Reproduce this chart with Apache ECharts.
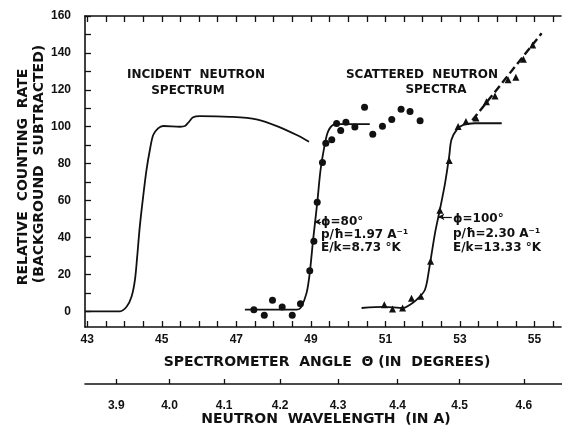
<!DOCTYPE html>
<html><head><meta charset="utf-8">
<script src="https://cdn.jsdelivr.net/npm/echarts@6/dist/echarts.min.js"></script>
<style>html,body{margin:0;padding:0;background:#fff}#c{width:562px;height:425px}</style>
</head><body><div id="c"></div>
<script>
// ---- data (spectrometer angle in degrees, relative counting rate) ----
const incidentTheta = [42.94, 43.5, 43.88, 44.06, 44.19, 44.28, 44.34, 44.41, 44.50, 44.59, 44.68, 44.77, 44.90, 45.04, 45.49, 45.62, 45.71, 45.84, 46.02, 46.83, 47.54, 48.17, 48.62, 48.95];
const incidentRate  = [0, 0, 0, 2.6, 8.0, 17.0, 29.6, 45.9, 62.1, 76.6, 87.4, 95.5, 99.1, 100.4, 100.0, 100.4, 102.2, 105.1, 105.8, 105.4, 104.0, 99.7, 95.5, 91.9];

const dots80Theta = [47.47, 47.75, 47.97, 48.23, 48.50, 48.72, 48.97, 49.08, 49.17, 49.31, 49.40, 49.56, 49.69, 49.80, 49.94, 50.18, 50.44, 50.66, 50.92, 51.17, 51.42, 51.66, 51.93];
const dots80Rate  = [0.9, -2.2, 6.0, 2.3, -2.1, 4.1, 22.0, 38.0, 59.1, 80.6, 91.1, 92.9, 101.7, 97.9, 102.5, 99.9, 110.5, 95.9, 100.2, 103.9, 109.5, 108.2, 103.2];

const fit80Theta = [47.23, 48.62, 48.73, 48.885, 48.97, 49.06, 49.17, 49.26, 49.38, 49.46, 49.60, 49.78, 50.58];
const fit80Rate  = [0.9, 0.9, 2.0, 10.0, 20.8, 38.8, 58.7, 76.7, 91.1, 97.4, 101.0, 101.4, 101.4];

const tri100Theta = [50.97, 51.19, 51.46, 51.70, 51.95, 52.21, 52.46, 52.71, 52.95, 53.16, 53.43, 53.71, 53.94, 54.29, 54.50, 54.70, 54.95];
const tri100Rate  = [3.6, 1.3, 1.8, 7.1, 8.1, 27.1, 54.7, 81.7, 100.1, 102.8, 104.7, 113.6, 116.7, 125.4, 126.8, 136.6, 144.3];

const fit100Theta = [50.36, 50.96, 51.48, 51.66, 51.84, 52.06, 52.17, 52.33, 52.46, 52.60, 52.71, 52.77, 52.91, 53.09, 53.40, 54.12];
const fit100Rate  = [1.8, 2.4, 1.8, 3.6, 6.3, 11.7, 22.6, 42.4, 55.0, 69.5, 83.9, 92.9, 98.3, 101.0, 101.9, 101.9];

const dash100Theta = [53.33, 55.19];
const dash100Rate  = [103.5, 150.6];

// ---- axes ----
const angleTicks  = [43, 43.5, 44, 44.5, 45, 45.5, 46, 46.5, 47, 47.5, 48, 48.5, 49, 49.5, 50, 50.5, 51, 51.5, 52, 52.5, 53, 53.5, 54, 54.5, 55, 55.5];
const angleLabels = [43, 45, 47, 49, 51, 53, 55];
const rateTicks   = [0, 10, 20, 30, 40, 50, 60, 70, 80, 90, 100, 110, 120, 130, 140, 150, 160];
const rateLabels  = [0, 20, 40, 60, 80, 100, 120, 140, 160];
const wavelengthLabels = [3.9, 4.0, 4.1, 4.2, 4.3, 4.4, 4.5, 4.6];
const TWO_D = 5.637; // Bragg: lambda = 2d sin(theta)

const ANGLE_MIN = 42.94, ANGLE_MAX = 55.71;
const RATE_MIN = -8.5, RATE_MAX = 160;

const toPairs = (xs, ys) => xs.map((x, i) => [x, ys[i]]);
const lambdaToTheta = l => Math.asin(l / TWO_D) * 180 / Math.PI;
const wlPositions = wavelengthLabels.map(lambdaToTheta);

const FONT = 'Liberation Sans';
const TFONT = 'DejaVu Sans';
const INK = '#111';
const lbl = {fontFamily: FONT, fontWeight: 'bold', fontSize: 12, color: INK};

const chart = echarts.init(document.getElementById('c'), null, {renderer: 'canvas'});

const t = (text, x, y, size, align) => ({
  type: 'text', x: x, y: y,
  style: {text: text, font: 'bold ' + size + 'px "' + TFONT + '"', fill: INK,
          textAlign: align || 'left', textVerticalAlign: 'middle'}
});

chart.setOption({
  animation: false,
  backgroundColor: '#fff',
  grid: [
    {left: 85, right: 1, top: 16, bottom: 98},
    {left: 85, right: 0, top: 383, height: 1}
  ],
  xAxis: [
    {type: 'value', gridIndex: 0, position: 'bottom', min: ANGLE_MIN, max: ANGLE_MAX,
     axisLine: {show: true, onZero: false, lineStyle: {color: INK, width: 1.6}},
     axisTick: {show: true, inside: true, length: 6, customValues: angleTicks, lineStyle: {color: INK, width: 1.3}},
     axisLabel: Object.assign({customValues: angleLabels, margin: 7}, lbl),
     splitLine: {show: false}},
    {type: 'value', gridIndex: 0, position: 'top', min: ANGLE_MIN, max: ANGLE_MAX,
     axisLine: {show: true, onZero: false, lineStyle: {color: INK, width: 1.6}},
     axisTick: {show: true, inside: true, length: 6, customValues: angleTicks, lineStyle: {color: INK, width: 1.3}},
     axisLabel: {show: false}, splitLine: {show: false}},
    {type: 'value', gridIndex: 1, position: 'bottom', min: ANGLE_MIN, max: ANGLE_MAX,
     axisLine: {show: true, onZero: false, lineStyle: {color: INK, width: 1.6}},
     axisTick: {show: true, inside: true, length: 5, customValues: wlPositions, lineStyle: {color: INK, width: 1.3}},
     axisLabel: Object.assign({customValues: wlPositions, margin: 16,
       formatter: v => (TWO_D * Math.sin(v * Math.PI / 180)).toFixed(1)}, lbl),
     splitLine: {show: false}}
  ],
  yAxis: [
    {type: 'value', gridIndex: 0, min: RATE_MIN, max: RATE_MAX,
     axisLine: {show: true, onZero: false, lineStyle: {color: INK, width: 1.6}},
     axisTick: {show: true, inside: true, length: 6, customValues: rateTicks, lineStyle: {color: INK, width: 1.3}},
     axisLabel: Object.assign({customValues: rateLabels, margin: 14}, lbl),
     splitLine: {show: false}},
    {type: 'value', gridIndex: 1, show: false, min: 0, max: 1}
  ],
  series: [
    {type: 'line', name: 'incident', xAxisIndex: 0, yAxisIndex: 0, data: toPairs(incidentTheta, incidentRate),
     showSymbol: false, smooth: 0.3, lineStyle: {color: INK, width: 1.8}},
    {type: 'line', name: 'fit80', xAxisIndex: 0, yAxisIndex: 0, data: toPairs(fit80Theta, fit80Rate),
     showSymbol: false, smooth: 0.3, lineStyle: {color: INK, width: 1.8},
     markLine: {silent: true, symbol: ['arrow', 'none'], symbolSize: [5, 6], label: {show: false},
       lineStyle: {color: INK, width: 1.2, type: 'solid'},
       data: [[{coord: [49.10, 48.5]}, {coord: [49.27, 48.5]}]]}},
    {type: 'scatter', name: 'dots80', xAxisIndex: 0, yAxisIndex: 0, data: toPairs(dots80Theta, dots80Rate),
     symbol: 'circle', symbolSize: 7, itemStyle: {color: INK, opacity: 1}},
    {type: 'line', name: 'fit100', xAxisIndex: 0, yAxisIndex: 0, data: toPairs(fit100Theta, fit100Rate),
     showSymbol: false, smooth: 0.3, lineStyle: {color: INK, width: 1.8},
     markLine: {silent: true, symbol: ['arrow', 'none'], symbolSize: [5, 6], label: {show: false},
       lineStyle: {color: INK, width: 1.2, type: 'solid'},
       data: [[{coord: [52.42, 51.2]}, {coord: [52.78, 51.2]}]]}},
    {type: 'line', name: 'dash100', xAxisIndex: 0, yAxisIndex: 0, data: toPairs(dash100Theta, dash100Rate),
     showSymbol: false, lineStyle: {color: INK, width: 2.4, type: [8, 4]}},
    {type: 'scatter', name: 'tri100', xAxisIndex: 0, yAxisIndex: 0, data: toPairs(tri100Theta, tri100Rate),
     symbol: 'triangle', symbolSize: 7, itemStyle: {color: INK, opacity: 1}}
  ],
  graphic: [
    t('INCIDENT  NEUTRON', 196, 75, 12, 'center'),
    t('SPECTRUM', 188, 91, 12, 'center'),
    t('SCATTERED  NEUTRON', 422, 75, 12, 'center'),
    t('SPECTRA', 436, 90, 12, 'center'),
    t('ϕ=80°', 321, 222, 12),
    t('p/ħ=1.97 A⁻¹', 321, 235, 12),
    t('E/k=8.73 °K', 321, 248, 12),
    t('ϕ=100°', 453, 219, 12),
    t('p/ħ=2.30 A⁻¹', 453, 234, 12),
    t('E/k=13.33 °K', 453, 248, 12),
    t('SPECTROMETER  ANGLE  Θ (IN  DEGREES)', 327, 362, 14, 'center'),
    t('NEUTRON  WAVELENGTH  (IN A)', 326, 419, 14, 'center'),
    {type: 'text', x: 23, y: 177, rotation: Math.PI / 2,
     style: {text: 'RELATIVE  COUNTING  RATE', font: 'bold 14px "' + TFONT + '"', fill: INK, textAlign: 'center', textVerticalAlign: 'middle'}},
    {type: 'text', x: 39, y: 164, rotation: Math.PI / 2,
     style: {text: '(BACKGROUND  SUBTRACTED)', font: 'bold 14px "' + TFONT + '"', fill: INK, textAlign: 'center', textVerticalAlign: 'middle'}}
  ]
});
</script>
</body></html>
